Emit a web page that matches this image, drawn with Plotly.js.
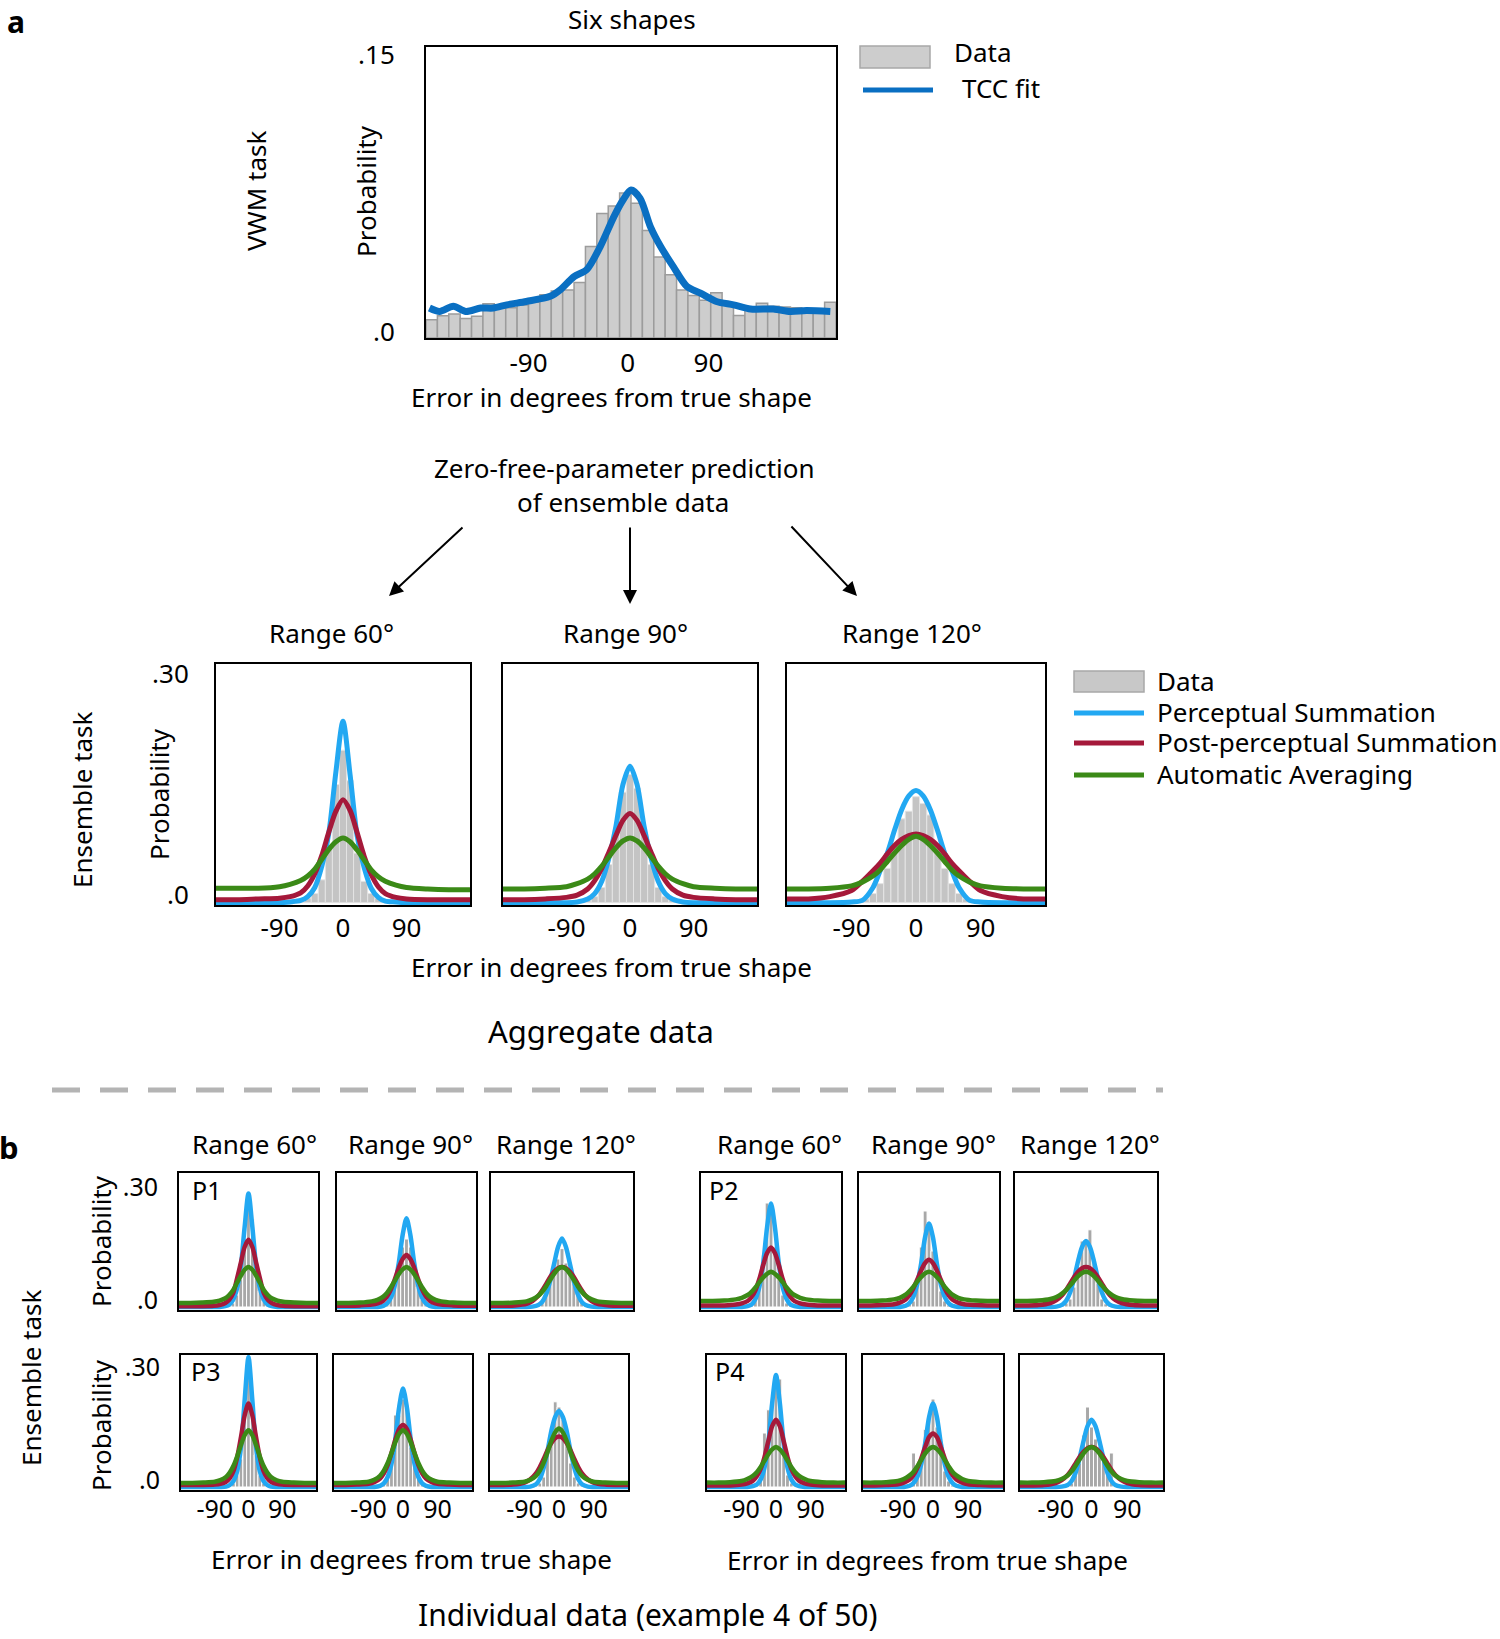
<!DOCTYPE html>
<html>
<head>
<meta charset="utf-8">
<script src="https://cdn.plot.ly/plotly-3.0.1.min.js"></script>
<style>
  html, body { margin: 0; padding: 0; background: #fff; }
  #plot { width: 1500px; height: 1639px; }
</style>
</head>
<body>
<div id="plot"></div>
<script>
// ---------- данные ----------
// верхняя панель (VWM, шесть фигур)
const topHistX = [-175,-165,-155,-145,-135,-125,-115,-105,-95,-85,-75,-65,-55,-45,-35,-25,-15,-5,
                  5,15,25,35,45,55,65,75,85,95,105,115,125,135,145,155,165,175];
const topHist = [0.0097,0.0118,0.0128,0.0104,0.0115,0.0182,0.0170,0.0160,0.0175,0.0190,0.0230,0.0250,
                 0.0255,0.0295,0.0485,0.0660,0.0700,0.0770,0.0715,0.0570,0.0430,0.0335,0.0255,0.0225,
                 0.0200,0.0240,0.0180,0.0120,0.0150,0.0185,0.0168,0.0165,0.0160,0.0155,0.0150,0.0190];
const tccX = [-177,-168,-156,-145,-132,-121,-109,-92,-71,-62,-50,-39,-27,-15,-7,0,8,17,26,37,49,61,75,90,105,125,140,154,175];
const tccY = [0.0159,0.0141,0.0168,0.0141,0.0159,0.0159,0.0176,0.0194,0.0221,0.0256,0.0326,0.0362,0.0485,0.0644,
              0.0732,0.0785,0.0741,0.0591,0.0485,0.0380,0.0274,0.0238,0.0194,0.0176,0.0154,0.0154,0.0141,0.0146,0.0141];

// общая ось x для кривых моделей
const curveX = [-180,-150,-120,-90,-75,-60,-50,-40,-30,-20,-10,0,10,20,30,40,50,60,75,90,120,150,180];

// агрегированные данные (диапазоны 60, 90, 120)
const aggHistX = [-80,-70,-60,-50,-40,-30,-20,-10,0,10,20,30,40,50,60,70,80];
const aggHist = [
  [0.002,0.003,0.004,0.006,0.012,0.030,0.070,0.155,0.200,0.160,0.065,0.028,0.012,0.006,0.004,0.003,0.002],
  [0.002,0.003,0.004,0.008,0.020,0.050,0.090,0.145,0.168,0.150,0.092,0.050,0.020,0.008,0.004,0.003,0.002],
  [0.002,0.005,0.012,0.025,0.045,0.075,0.110,0.120,0.139,0.130,0.115,0.075,0.045,0.025,0.012,0.005,0.002]
];
const aggPercep = [
  [0,0,0,0,0.001,0.003,0.008,0.020,0.048,0.092,0.172,0.238,0.168,0.088,0.046,0.019,0.007,0.002,0.001,0,0,0,0],
  [0,0,0,0,0.001,0.005,0.012,0.028,0.058,0.100,0.155,0.179,0.155,0.100,0.058,0.028,0.012,0.005,0.001,0,0,0,0],
  [0,0,0,0.001,0.003,0.020,0.042,0.065,0.095,0.122,0.140,0.147,0.140,0.122,0.095,0.065,0.042,0.020,0.003,0.001,0,0,0]
];
const aggPost = [
  [0.004,0.004,0.005,0.006,0.008,0.013,0.022,0.038,0.062,0.093,0.120,0.135,0.121,0.092,0.061,0.037,0.021,0.012,0.007,0.005,0.004,0.004,0.004],
  [0.004,0.004,0.005,0.007,0.010,0.018,0.029,0.045,0.066,0.088,0.108,0.117,0.108,0.088,0.066,0.045,0.029,0.018,0.010,0.007,0.005,0.004,0.004],
  [0.005,0.005,0.008,0.016,0.028,0.042,0.052,0.064,0.075,0.083,0.088,0.090,0.088,0.083,0.075,0.064,0.052,0.042,0.028,0.016,0.008,0.005,0.005]
];
const aggAuto = [
  [0.019,0.019,0.019,0.021,0.024,0.029,0.035,0.044,0.057,0.070,0.080,0.085,0.080,0.069,0.056,0.043,0.034,0.028,0.023,0.020,0.018,0.017,0.017],
  [0.018,0.018,0.019,0.021,0.025,0.031,0.038,0.048,0.060,0.072,0.081,0.085,0.081,0.072,0.060,0.048,0.038,0.031,0.025,0.021,0.019,0.018,0.018],
  [0.018,0.018,0.019,0.022,0.027,0.035,0.043,0.054,0.065,0.075,0.083,0.087,0.083,0.075,0.065,0.054,0.043,0.035,0.027,0.022,0.019,0.018,0.018]
];

// индивидуальные данные P1..P4, в каждом три диапазона
const indHistX = [-60,-50,-40,-30,-20,-10,0,10,20,30,40,50,60];
const indHist = {
  P1: [[0.002,0.003,0.010,0.030,0.070,0.170,0.260,0.220,0.090,0.040,0.015,0.004,0.002],
       [0.003,0.006,0.020,0.050,0.090,0.150,0.170,0.150,0.100,0.050,0.020,0.006,0.003],
       [0.004,0.012,0.030,0.060,0.090,0.120,0.146,0.110,0.093,0.060,0.030,0.012,0.004]],
  P2: [[0.003,0.005,0.020,0.075,0.130,0.260,0.260,0.150,0.070,0.030,0.010,0.004,0.002],
       [0.003,0.006,0.015,0.060,0.150,0.240,0.210,0.140,0.090,0.040,0.015,0.005,0.003],
       [0.004,0.010,0.020,0.050,0.100,0.165,0.165,0.193,0.120,0.060,0.020,0.008,0.003]],
  P3: [[0.002,0.003,0.010,0.030,0.070,0.200,0.300,0.170,0.080,0.030,0.010,0.003,0.002],
       [0.003,0.006,0.020,0.060,0.180,0.180,0.220,0.200,0.100,0.050,0.020,0.006,0.003],
       [0.004,0.010,0.025,0.080,0.150,0.213,0.200,0.170,0.110,0.060,0.025,0.010,0.004]],
  P4: [[0.002,0.004,0.020,0.135,0.193,0.200,0.280,0.270,0.080,0.030,0.010,0.003,0.002],
       [0.002,0.085,0.050,0.070,0.144,0.170,0.220,0.150,0.090,0.040,0.015,0.005,0.002],
       [0.003,0.010,0.030,0.060,0.130,0.200,0.150,0.120,0.100,0.070,0.050,0.085,0.005]]
};
const indPercep = {
  P1: [[0,0,0,0,0,0.002,0.006,0.018,0.045,0.100,0.200,0.284,0.200,0.100,0.045,0.018,0.006,0.002,0,0,0,0,0],
       [0,0,0,0,0,0.003,0.009,0.024,0.055,0.110,0.180,0.222,0.180,0.110,0.055,0.024,0.009,0.003,0,0,0,0,0],
       [0,0,0,0,0.001,0.005,0.013,0.032,0.065,0.108,0.150,0.171,0.150,0.108,0.065,0.032,0.013,0.005,0.001,0,0,0,0]],
  P2: [[0,0,0,0,0,0.002,0.006,0.020,0.050,0.110,0.200,0.259,0.200,0.110,0.050,0.020,0.006,0.002,0,0,0,0,0],
       [0,0,0,0,0,0.003,0.010,0.026,0.058,0.110,0.175,0.209,0.175,0.110,0.058,0.026,0.010,0.003,0,0,0,0,0],
       [0,0,0,0,0.001,0.006,0.016,0.037,0.072,0.115,0.150,0.165,0.150,0.115,0.072,0.037,0.016,0.006,0.001,0,0,0,0]],
  P3: [[0,0,0,0,0,0.001,0.005,0.015,0.040,0.100,0.220,0.325,0.220,0.100,0.040,0.015,0.005,0.001,0,0,0,0,0],
       [0,0,0,0,0,0.003,0.009,0.025,0.058,0.120,0.200,0.246,0.200,0.120,0.058,0.025,0.009,0.003,0,0,0,0,0],
       [0,0,0,0,0.001,0.007,0.020,0.048,0.090,0.140,0.175,0.190,0.175,0.140,0.090,0.048,0.020,0.007,0.001,0,0,0,0]],
  P4: [[0,0,0,0,0,0.002,0.006,0.019,0.048,0.110,0.210,0.280,0.210,0.110,0.048,0.019,0.006,0.002,0,0,0,0,0],
       [0,0,0,0,0,0.003,0.010,0.026,0.058,0.110,0.175,0.209,0.175,0.110,0.058,0.026,0.010,0.003,0,0,0,0,0],
       [0,0,0,0,0.001,0.005,0.015,0.036,0.072,0.115,0.152,0.168,0.152,0.115,0.072,0.036,0.015,0.005,0.001,0,0,0,0]]
};
const indPost = {
  P1: [[0.002,0.002,0.002,0.003,0.005,0.010,0.018,0.034,0.070,0.110,0.150,0.168,0.150,0.110,0.070,0.034,0.018,0.010,0.005,0.003,0.002,0.002,0.002],
       [0.003,0.003,0.004,0.006,0.009,0.016,0.027,0.045,0.070,0.098,0.120,0.130,0.120,0.098,0.070,0.045,0.027,0.016,0.009,0.006,0.004,0.003,0.003],
       [0.003,0.003,0.004,0.008,0.015,0.028,0.042,0.058,0.075,0.088,0.097,0.100,0.097,0.088,0.075,0.058,0.042,0.028,0.015,0.008,0.004,0.003,0.003]],
  P2: [[0.004,0.004,0.004,0.006,0.009,0.015,0.025,0.042,0.070,0.105,0.135,0.149,0.135,0.105,0.070,0.042,0.025,0.015,0.009,0.006,0.004,0.004,0.004],
       [0.004,0.004,0.005,0.007,0.011,0.019,0.030,0.047,0.069,0.092,0.110,0.118,0.110,0.092,0.069,0.047,0.030,0.019,0.011,0.007,0.005,0.004,0.004],
       [0.004,0.004,0.005,0.010,0.017,0.030,0.043,0.059,0.075,0.088,0.097,0.100,0.097,0.088,0.075,0.059,0.043,0.030,0.017,0.010,0.005,0.004,0.004]],
  P3: [[0.005,0.005,0.005,0.006,0.008,0.013,0.022,0.040,0.075,0.125,0.180,0.209,0.180,0.125,0.075,0.040,0.022,0.013,0.008,0.006,0.005,0.005,0.005],
       [0.005,0.005,0.006,0.008,0.012,0.021,0.034,0.055,0.085,0.118,0.145,0.155,0.145,0.118,0.085,0.055,0.034,0.021,0.012,0.008,0.006,0.005,0.005],
       [0.005,0.005,0.006,0.011,0.019,0.034,0.050,0.070,0.092,0.110,0.122,0.126,0.122,0.110,0.092,0.070,0.050,0.034,0.019,0.011,0.006,0.005,0.005]],
  P4: [[0.004,0.004,0.004,0.006,0.009,0.016,0.027,0.045,0.075,0.115,0.152,0.168,0.152,0.115,0.075,0.045,0.027,0.016,0.009,0.006,0.004,0.004,0.004],
       [0.004,0.004,0.005,0.007,0.011,0.019,0.030,0.048,0.072,0.100,0.125,0.134,0.125,0.100,0.072,0.048,0.030,0.019,0.011,0.007,0.005,0.004,0.004],
       [0.004,0.004,0.005,0.010,0.017,0.030,0.043,0.059,0.075,0.088,0.097,0.100,0.097,0.088,0.075,0.059,0.043,0.030,0.017,0.010,0.005,0.004,0.004]]
};
const indAuto = {
  P1: [[0.010,0.010,0.011,0.013,0.016,0.022,0.030,0.042,0.060,0.078,0.093,0.100,0.093,0.078,0.060,0.042,0.030,0.022,0.016,0.013,0.011,0.010,0.010],
       [0.010,0.010,0.011,0.014,0.018,0.026,0.036,0.050,0.066,0.082,0.094,0.100,0.094,0.082,0.066,0.050,0.036,0.026,0.018,0.014,0.011,0.010,0.010],
       [0.010,0.010,0.011,0.014,0.019,0.028,0.038,0.052,0.068,0.083,0.095,0.100,0.095,0.083,0.068,0.052,0.038,0.028,0.019,0.014,0.011,0.010,0.010]],
  P2: [[0.015,0.015,0.016,0.019,0.023,0.030,0.038,0.049,0.062,0.074,0.083,0.088,0.083,0.074,0.062,0.049,0.038,0.030,0.023,0.019,0.016,0.015,0.015],
       [0.015,0.015,0.016,0.019,0.023,0.031,0.040,0.051,0.064,0.075,0.084,0.088,0.084,0.075,0.064,0.051,0.040,0.031,0.023,0.019,0.016,0.015,0.015],
       [0.015,0.015,0.016,0.020,0.025,0.034,0.043,0.054,0.066,0.077,0.085,0.088,0.085,0.077,0.066,0.054,0.043,0.034,0.025,0.020,0.016,0.015,0.015]],
  P3: [[0.010,0.010,0.011,0.013,0.017,0.025,0.036,0.053,0.077,0.105,0.130,0.142,0.130,0.105,0.077,0.053,0.036,0.025,0.017,0.013,0.011,0.010,0.010],
       [0.010,0.010,0.011,0.013,0.018,0.028,0.041,0.060,0.085,0.112,0.133,0.142,0.133,0.112,0.085,0.060,0.041,0.028,0.018,0.013,0.011,0.010,0.010],
       [0.010,0.010,0.011,0.013,0.018,0.028,0.041,0.061,0.087,0.115,0.137,0.146,0.137,0.115,0.087,0.061,0.041,0.028,0.018,0.013,0.011,0.010,0.010]],
  P4: [[0.011,0.011,0.012,0.015,0.020,0.028,0.037,0.050,0.066,0.082,0.094,0.100,0.094,0.082,0.066,0.050,0.037,0.028,0.020,0.015,0.012,0.011,0.011],
       [0.011,0.011,0.012,0.015,0.020,0.029,0.038,0.052,0.068,0.084,0.095,0.100,0.095,0.084,0.068,0.052,0.038,0.029,0.020,0.015,0.012,0.011,0.011],
       [0.011,0.011,0.012,0.015,0.020,0.029,0.039,0.053,0.069,0.084,0.095,0.100,0.095,0.084,0.069,0.053,0.039,0.029,0.020,0.015,0.012,0.011,0.011]]
};

const rangeLabels = ["Range 60°", "Range 90°", "Range 120°"];
const tickLabels = ["-90", "0", "90"];

// ---------- оформление ----------
const W = 1500, H = 1639;
const FONT = "Noto Sans, Open Sans, sans-serif";
const C_TCC = "#0a6fc2", C_PER = "#22a8f2", C_POST = "#a5193a", C_AUTO = "#3b8a17";

const fx = px => px / W;
const fy = px => 1 - px / H;

const data = [];
const layout = {
  width: W, height: H,
  margin: { l: 0, r: 0, t: 0, b: 0 },
  paper_bgcolor: "#fff", plot_bgcolor: "#fff",
  showlegend: false,
  font: { family: FONT, size: 26, color: "#000" },
  annotations: [], shapes: []
};

let axN = 0;
// одна панель: рамка в пикселях [x0, x1, y0, y1]
function addPanel(box, yRange, opt) {
  axN += 1;
  const sfx = axN === 1 ? "" : String(axN);
  const xa = "x" + sfx, ya = "y" + sfx;
  layout["xaxis" + sfx] = {
    domain: [fx(box[0]), fx(box[1])], range: [-180, 180], anchor: ya,
    showline: true, mirror: true, linecolor: "#000", linewidth: opt.lineW || 2,
    showgrid: false, zeroline: false, ticks: "", ticklen: 0, fixedrange: true,
    showticklabels: !!opt.xTicks, tickvals: opt.xTickVals || [-90, 0, 90], ticktext: tickLabels,
    tickfont: { size: opt.tickSize || 26 }, ticklabelstandoff: opt.xStand || 0
  };
  layout["yaxis" + sfx] = {
    domain: [fy(box[3]), fy(box[2])], range: yRange, anchor: xa,
    showline: true, mirror: true, linecolor: "#000", linewidth: opt.lineW || 2,
    showgrid: false, zeroline: false, ticks: "", ticklen: 0, fixedrange: true,
    showticklabels: !!opt.yTicks, tickvals: opt.yTickVals, ticktext: opt.yTickText,
    tickfont: { size: opt.tickSize || 26 }, ticklabelstandoff: opt.yStand || 16
  };
  data.push({
    type: "bar", x: opt.histX, y: opt.hist, width: 10, xaxis: xa, yaxis: ya,
    marker: { color: opt.barFill, line: { color: opt.barLine, width: opt.barLineW } },
    hoverinfo: "skip"
  });
  opt.curves.forEach(c => {
    data.push({
      type: "scatter", mode: "lines", x: c.x, y: c.y, xaxis: xa, yaxis: ya,
      line: { color: c.color, width: opt.curveW, shape: "spline", smoothing: 0.8 },
      hoverinfo: "skip"
    });
  });
}

function txt(text, x, y, size, extra) {
  return Object.assign({
    text: text, x: fx(x), y: fy(y), xref: "paper", yref: "paper",
    showarrow: false, xanchor: "center", yanchor: "middle",
    font: { family: FONT, size: size, color: "#000" }
  }, extra || {});
}

// верхняя панель
addPanel([426, 836, 47, 338], [0, 0.1544], {
  histX: topHistX, hist: topHist, barFill: "#cdcdcd", barLine: "#9c9c9c", barLineW: 1.5,
  curves: [{ x: tccX, y: tccY, color: C_TCC }], curveW: 7,
  xTicks: true, xTickVals: [-90, -3, 68], xStand: 1,
  yTicks: true, yTickVals: [0.003, 0.15], yTickText: [".0", ".15"], yStand: 24
});

// средние панели (агрегированные)
const aggBoxes = [[216, 470, 664, 905], [503, 757, 664, 905], [787, 1045, 664, 905]];
aggBoxes.forEach((b, i) => {
  addPanel(b, [-0.003, 0.313], {
    histX: aggHistX, hist: aggHist[i], barFill: "#c4c4c4", barLine: "#e4e4e4", barLineW: 1,
    curves: [
      { x: curveX, y: aggPercep[i], color: C_PER },
      { x: curveX, y: aggPost[i], color: C_POST },
      { x: curveX, y: aggAuto[i], color: C_AUTO }
    ], curveW: 5,
    xTicks: true, xStand: -1,
    yTicks: i === 0, yTickVals: [0.01, 0.3], yTickText: [".0", ".30"], yStand: 20
  });
});

// нижние панели (индивидуальные)
const indRows = [
  { y: [1173, 1310], yr: [-0.0075, 0.335], ps: ["P1", "P2"],
    xs: [[179, 318], [337, 476], [491, 633], [701, 841], [859, 999], [1015, 1157]] },
  { y: [1355, 1490], yr: [-0.0075, 0.33], ps: ["P3", "P4"],
    xs: [[181, 316], [334, 472], [490, 628], [707, 845], [863, 1003], [1020, 1163]] }
];
indRows.forEach((row, r) => {
  row.xs.forEach((xx, k) => {
    const p = row.ps[Math.floor(k / 3)], i = k % 3;
    addPanel([xx[0], xx[1], row.y[0], row.y[1]], row.yr, {
      histX: indHistX, hist: indHist[p][i], barFill: "#a8a8a8", barLine: "#ffffff", barLineW: 1,
      curves: [
        { x: curveX, y: indPercep[p][i], color: C_PER },
        { x: curveX, y: indPost[p][i], color: C_POST },
        { x: curveX, y: indAuto[p][i], color: C_AUTO }
      ], curveW: 4.5,
      xTicks: r === 1, xStand: -4, tickSize: 25,
      yTicks: k === 0, yTickVals: [0.018, 0.3], yTickText: [".0", ".30"], yStand: 14
    });
  });
});

// ---------- подписи ----------
const A = layout.annotations;
A.push(txt("<b>a</b>", 16, 22, 30));
A.push(txt("<b>b</b>", 9, 1147, 31));
A.push(txt("Six shapes", 632, 19, 26));
A.push(txt("VWM task", 256, 191, 26, { textangle: -90 }));
A.push(txt("Probability", 366, 191, 26, { textangle: -90 }));
A.push(txt("Error in degrees from true shape", 611, 397, 26));
A.push(txt("Zero-free-parameter prediction", 624, 468, 26));
A.push(txt("of ensemble data", 623, 502, 26));
[331, 625, 912].forEach((x, i) => A.push(txt(rangeLabels[i], x, 633, 26)));
A.push(txt("Probability", 159, 794, 26, { textangle: -90 }));
A.push(txt("Ensemble task", 82, 800, 26, { textangle: -90 }));
A.push(txt("Error in degrees from true shape", 611, 967, 26));
A.push(txt("Aggregate data", 601, 1031, 31));
[254, 410, 566, 779, 933, 1090].forEach((x, i) => A.push(txt(rangeLabels[i % 3], x, 1144, 26)));
A.push(txt("Probability", 101, 1241, 26, { textangle: -90 }));
A.push(txt("Probability", 101, 1425, 26, { textangle: -90 }));
A.push(txt("Ensemble task", 31, 1378, 26, { textangle: -90 }));
A.push(txt("P1", 206, 1190, 25));
A.push(txt("P2", 723, 1190, 25));
A.push(txt("P3", 205, 1371, 25));
A.push(txt("P4", 729, 1371, 25));
A.push(txt("Error in degrees from true shape", 411, 1559, 26));
A.push(txt("Error in degrees from true shape", 927, 1560, 26));
A.push(txt("Individual data (example 4 of 50)", 648, 1614, 30));

// стрелки
[[389, 596, 464, 526], [630, 604, 630, 526], [857, 596, 790, 525]].forEach(a => {
  A.push({ x: fx(a[0]), y: fy(a[1]), xref: "paper", yref: "paper", text: "",
    showarrow: true, ax: a[2] - a[0], ay: a[3] - a[1],
    arrowhead: 2, arrowsize: 1.4, arrowwidth: 2, arrowcolor: "#000" });
});

// легенды
const S = layout.shapes;
function rectPx(x0, y0, x1, y1, fill, line) {
  S.push({ type: "rect", xref: "paper", yref: "paper", x0: fx(x0), x1: fx(x1), y0: fy(y1), y1: fy(y0),
    fillcolor: fill, line: { color: line, width: 1.5 } });
}
function linePx(x0, x1, y, color, w, dash) {
  S.push({ type: "line", xref: "paper", yref: "paper", x0: fx(x0), x1: fx(x1), y0: fy(y), y1: fy(y),
    line: { color: color, width: w, dash: dash || "solid" } });
}
rectPx(860, 46, 930, 68, "#cdcdcd", "#a8a8a8");
linePx(863, 933, 90, C_TCC, 5);
A.push(txt("Data", 952, 52, 26, { xanchor: "left" }));
A.push(txt("TCC fit", 960, 88, 26, { xanchor: "left" }));

rectPx(1074, 671, 1144, 692, "#c8c8c8", "#a8a8a8");
linePx(1074, 1144, 713, C_PER, 5);
linePx(1074, 1144, 743, C_POST, 5);
linePx(1074, 1144, 775, C_AUTO, 5);
A.push(txt("Data", 1155, 681, 26, { xanchor: "left" }));
A.push(txt("Perceptual Summation", 1155, 712, 26, { xanchor: "left" }));
A.push(txt("Post-perceptual Summation", 1155, 742, 26, { xanchor: "left" }));
A.push(txt("Automatic Averaging", 1155, 774, 26, { xanchor: "left" }));

// пунктирный разделитель
linePx(52, 1163, 1090, "#b4b4b4", 5, "28px,20px");

Plotly.newPlot("plot", data, layout, { staticPlot: true });
</script>
</body>
</html>
